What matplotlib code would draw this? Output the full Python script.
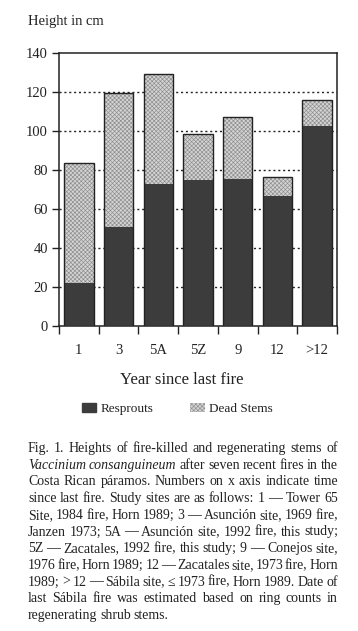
import numpy as np
import matplotlib as mpl
import matplotlib.pyplot as plt
from matplotlib.patches import Patch

## DATA ##
years = ['1', '3', '5A', '5Z', '9', '12', '>12']
resprouts = [22, 51, 73, 75, 75.5, 66.5, 102.5]
dead_stems = [61.5, 68.5, 56, 23.5, 31.5, 10, 13.5]
y_ticks = [0, 20, 40, 60, 80, 100, 120, 140]

caption_lines = [
    "Fig. 1. Heights of fire-killed and regenerating stems of",
    "*Vaccinium *consanguineum after seven recent fires in the",
    "Costa Rican páramos. Numbers on x axis indicate time",
    "since last fire. Study sites are as follows: 1 — Tower 65",
    "Site, 1984 fire, Horn 1989; 3 — Asunción site, 1969 fire,",
    "Janzen 1973; 5A — Asunción site, 1992 fire, this study;",
    "5Z — Zacatales, 1992 fire, this study; 9 — Conejos site,",
    "1976 fire, Horn 1989; 12 — Zacatales site, 1973 fire, Horn",
    "1989; > 12 — Sábila site, ≤ 1973 fire, Horn 1989. Date of",
    "last Sábila fire was estimated based on ring counts in",
    "regenerating shrub stems.",
]

## STYLE ##
plt.rcParams['font.family'] = ['Liberation Serif', 'DejaVu Serif']
plt.rcParams['hatch.linewidth'] = 0.45
ink = '#222222'
dark = '#3c3c3c'
light = '#d4d4d4'
hatch_col = '#8c8c8c'
W, H = 358, 631

def fx(px):
    return px / W

def fy(py):
    return 1 - py / H

fig = plt.figure(figsize=(W / 100, H / 100), dpi=100)
ax = fig.add_axes([fx(59), fy(326), (337 - 59) / W, (326 - 53) / H])

x = np.arange(len(years))
ax.bar(x, resprouts, width=0.74, color=dark, edgecolor=dark, linewidth=0, zorder=3)
ax.bar(x, dead_stems, bottom=resprouts, width=0.74, color=light, hatch='xxxxxxxx',
       edgecolor=hatch_col, linewidth=0, zorder=3)
# outline of the whole stack
totals = [r + d for r, d in zip(resprouts, dead_stems)]
ax.bar(x, totals, width=0.74, fill=False, edgecolor=ink, linewidth=1.0, zorder=4)

ax.set_xlim(-0.5, 6.5)
ax.set_ylim(0, 140)
ax.set_yticks(y_ticks)
ax.tick_params(axis='y', direction='out', length=5, width=1.0, pad=3, labelsize=10.5, colors=ink)
ax.set_xticks(x)
ax.set_xticklabels(years)
ax.tick_params(axis='x', which='major', length=0, pad=13, labelsize=10.5, colors=ink)
ax.set_xticks(np.arange(-0.5, 7, 1), minor=True)
ax.tick_params(axis='x', which='minor', direction='out', length=6, width=1.0, colors=ink)
for yv in y_ticks[1:-1]:
    ax.axhline(yv, color=ink, linestyle=(0, (1.5, 2)), linewidth=1.0, zorder=1)
for s in ax.spines.values():
    s.set_linewidth(1.1)
    s.set_color(ink)

fig.text(fx(28), fy(22), 'Height in cm', fontsize=10.5, color=ink, va='center', ha='left')
fig.text(fx(182), fy(380), 'Year since last fire', fontsize=12, color=ink, va='center', ha='center')

handles = [Patch(facecolor=dark, edgecolor=dark, label='Resprouts'),
           Patch(facecolor=light, hatch='xxxxxxxx', edgecolor=hatch_col, linewidth=0, label='Dead Stems')]
fig.legend(handles=handles, loc='center', bbox_to_anchor=(fx(177), fy(409)), ncol=2,
           frameon=False, fontsize=9.5, handlelength=1.1, handleheight=0.7,
           handletextpad=0.3, columnspacing=2.8, labelcolor=ink)

## CAPTION (justified) ##
renderer = fig.canvas.get_renderer()
x0, x1 = 28, 338
base = 452
step = 16.7
cap_size = 10
space_w = 2.6
for i, line in enumerate(caption_lines):
    items = []
    for w in line.split(' '):
        it = w.startswith('*') or w.endswith('*')
        items.append((w.strip('*'), it))
    y = fy(base + i * step)
    texts = []
    for w, it in items:
        t = fig.text(0, y, w, fontsize=cap_size, color=ink, va='baseline', ha='left',
                     style='italic' if it else 'normal')
        texts.append(t)
    widths = [t.get_window_extent(renderer).width for t in texts]
    if i < len(caption_lines) - 1:
        gap = max((x1 - x0 - sum(widths)) / (len(texts) - 1), 1.5)
    else:
        gap = space_w
    cur = x0
    for t, wd in zip(texts, widths):
        t.set_x(fx(cur))
        cur += wd + gap

fig.savefig('out.png', dpi=100, facecolor='white')
